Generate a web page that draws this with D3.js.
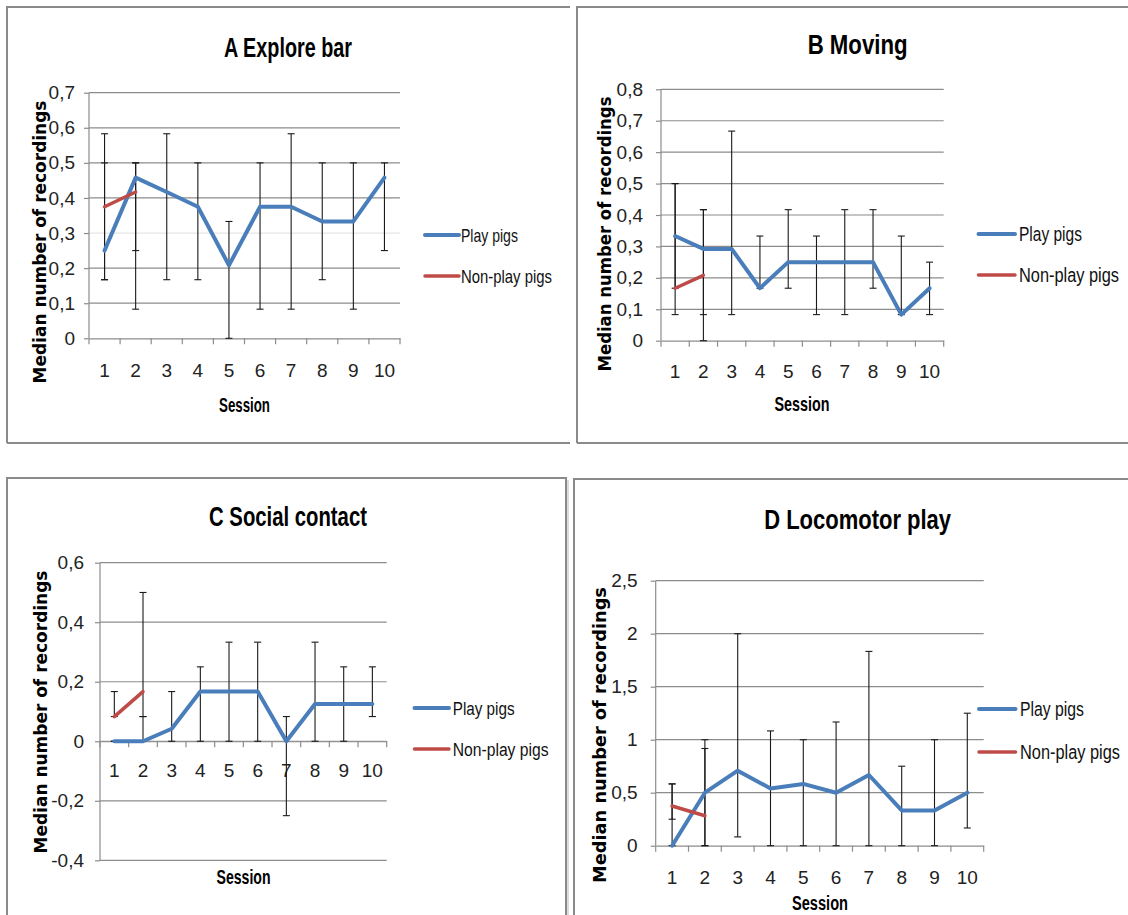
<!DOCTYPE html>
<html><head><meta charset="utf-8">
<script src="https://cdn.jsdelivr.net/npm/d3@7"></script>
<style>body{margin:0;background:#fff}svg{display:block}</style>
</head><body>
<svg id="c" width="1128" height="915"></svg>
<script>
// ---------- DATA ----------
const sessions = ["1","2","3","4","5","6","7","8","9","10"];
const seriesNames = ["Play pigs", "Non-play pigs"];
const titles = ["A Explore bar", "B Moving", "C Social contact", "D Locomotor play"];
const xAxisTitle = "Session";
const yAxisTitle = "Median number of recordings";

const yTicksA = [0, 0.1, 0.2, 0.3, 0.4, 0.5, 0.6, 0.7];
const yTicksB = [0, 0.1, 0.2, 0.3, 0.4, 0.5, 0.6, 0.7, 0.8];
const yTicksC = [-0.4, -0.2, 0, 0.2, 0.4, 0.6];
const yTicksD = [0, 0.5, 1, 1.5, 2, 2.5];

// A Explore bar
const playA      = [0.25, 0.458, 0.417, 0.375, 0.208, 0.375, 0.375, 0.333, 0.333, 0.458];
const playA_lo   = [0.167, 0.083, 0.167, 0.167, 0, 0.083, 0.083, 0.167, 0.083, 0.25];
const playA_hi   = [0.5, 0.5, 0.583, 0.5, 0.333, 0.5, 0.583, 0.5, 0.5, 0.5];
const nonPlayA    = [0.375, 0.417];
const nonPlayA_lo = [0.167, 0.25];
const nonPlayA_hi = [0.583, 0.5];

// B Moving
const playB      = [0.333, 0.292, 0.292, 0.167, 0.25, 0.25, 0.25, 0.25, 0.083, 0.167];
const playB_lo   = [0.083, 0.083, 0.083, 0.167, 0.167, 0.083, 0.083, 0.167, 0.083, 0.083];
const playB_hi   = [0.5, 0.417, 0.667, 0.333, 0.417, 0.333, 0.417, 0.417, 0.333, 0.25];
const nonPlayB    = [0.167, 0.208];
const nonPlayB_lo = [0.167, 0];
const nonPlayB_hi = [0.5, 0.417];

// C Social contact
const playC      = [0, 0, 0.042, 0.167, 0.167, 0.167, 0, 0.125, 0.125, 0.125];
const playC_lo   = [0, 0, 0, 0, 0, 0, -0.25, 0, 0, 0.083];
const playC_hi   = [0, 0.083, 0.167, 0.25, 0.333, 0.333, 0.083, 0.333, 0.25, 0.25];
const nonPlayC    = [0.083, 0.167];
const nonPlayC_lo = [0.083, 0.083];
const nonPlayC_hi = [0.167, 0.5];

// D Locomotor play
const playD      = [0, 0.5, 0.708, 0.54, 0.583, 0.5, 0.667, 0.333, 0.333, 0.5];
const playD_lo   = [0, 0, 0.083, 0, 0, 0, 0, 0, 0, 0.167];
const playD_hi   = [0.583, 1.0, 2.0, 1.083, 1.0, 1.167, 1.833, 0.75, 1.0, 1.25];
const nonPlayD    = [0.375, 0.283];
const nonPlayD_lo = [0.25, 0];
const nonPlayD_hi = [0.583, 0.917];

// ---------- STYLE ----------
const BLUE = "#4a7ebb", RED = "#be4b48", GRID = "#8c8c8c", FRAME = "#8a8a8a";
const NARROW = "'Liberation Sans Narrow','Arial Narrow','Liberation Sans',Arial,sans-serif";
const WIDE = "'DejaVu Sans',Verdana,sans-serif";
const loc = d3.formatLocale({decimal: ",", thousands: ".", grouping: [3], currency: ["", ""], minus: "-"});
const fmt = v => loc.format("~g")(Math.round(v * 100) / 100);

const svg = d3.select("#c");
svg.append("rect").attr("width", 1128).attr("height", 915).attr("fill", "#fff");

// place a text at (x,y), optionally rotated, squeezed horizontally to a target length
function fitText(parent, str, x, y, len, opts) {
  const t = parent.append("text").attr("x", 0).attr("y", 0)
    .attr("font-family", opts.family).attr("font-size", opts.size)
    .attr("font-weight", opts.weight || "normal").attr("fill", opts.fill || "#000")
    .attr("text-anchor", opts.anchor || "start").text(str);
  if (opts.dy) t.attr("dy", opts.dy);
  const w = t.node().getComputedTextLength();
  const s = len / w;
  t.attr("transform", `translate(${x},${y})${opts.rotate ? ` rotate(${opts.rotate})` : ""} scale(${s},1)`);
  return t;
}

const panels = [
  { title: titles[0], ticks: yTicksA, domain: [0, 0.7],
    play: playA, playLo: playA_lo, playHi: playA_hi, non: nonPlayA, nonLo: nonPlayA_lo, nonHi: nonPlayA_hi,
    frame: {x: 7, y: 7, x2: 570, y2: 443, right: false, bottom: true},
    plot: {x0: 89, x1: 400, yTop: 92.7, yBot: 338.3}, lightTick: 0.3,
    titlePos: {x: 288, y: 57, len: 128},
    yTitle: {x: 40, y: 242, len: 283},
    sess: {x: 244.5, y: 411.5, len: 51},
    leg: {x1: 425, x2: 459, tx: 461, y1: 235, y2: 276, fs: 18, len1: 57, len2: 91},
    yPad: 9, xPad: 25.5 },
  { title: titles[1], ticks: yTicksB, domain: [0, 0.8],
    play: playB, playLo: playB_lo, playHi: playB_hi, non: nonPlayB, nonLo: nonPlayB_lo, nonHi: nonPlayB_hi,
    frame: {x: 577, y: 7, x2: 1140, y2: 443, right: false, bottom: true},
    plot: {x0: 661, x1: 943.7, yTop: 89.3, yBot: 340.7},
    titlePos: {x: 857.6, y: 54, len: 100},
    yTitle: {x: 604.5, y: 234, len: 275},
    sess: {x: 802, y: 411, len: 55},
    leg: {x1: 978.5, x2: 1015, tx: 1019, y1: 234, y2: 275, fs: 19.5, len1: 63, len2: 100},
    yPad: 13, xPad: 23.5 },
  { title: titles[2], ticks: yTicksC, domain: [-0.4, 0.6],
    play: playC, playLo: playC_lo, playHi: playC_hi, non: nonPlayC, nonLo: nonPlayC_lo, nonHi: nonPlayC_hi,
    frame: {x: 7, y: 478, x2: 566, y2: 930, right: true, bottom: false},
    plot: {x0: 100, x1: 386.7, yTop: 562.7, yBot: 860.3},
    titlePos: {x: 288, y: 526, len: 158},
    yTitle: {x: 40.5, y: 712, len: 283},
    sess: {x: 243.5, y: 884, len: 54},
    leg: {x1: 414.5, x2: 449, tx: 452.7, y1: 708, y2: 749, fs: 19, len1: 62, len2: 96},
    yPad: 11, xPad: 22.5 },
  { title: titles[3], ticks: yTicksD, domain: [0, 2.5],
    play: playD, playLo: playD_lo, playHi: playD_hi, non: nonPlayD, nonLo: nonPlayD_lo, nonHi: nonPlayD_hi,
    frame: {x: 574, y: 479, x2: 1140, y2: 930, right: false, bottom: false},
    plot: {x0: 655.7, x1: 983.7, yTop: 580.7, yBot: 845.7},
    titlePos: {x: 857.6, y: 529, len: 187},
    yTitle: {x: 600, y: 735, len: 296},
    sess: {x: 820, y: 910, len: 56},
    leg: {x1: 979, x2: 1015.5, tx: 1020, y1: 709, y2: 752, fs: 19.5, len1: 64, len2: 100},
    yPad: 13, xPad: 25 }
];

panels.forEach(p => {
  const g = svg.append("g");
  const f = p.frame;
  // frame
  let d = `M${f.x},${f.y2}L${f.x},${f.y}L${f.x2},${f.y}`;
  if (f.right) d += `L${f.x2},${f.y2}`;
  g.append("path").attr("d", d).attr("fill", "none").attr("stroke", FRAME).attr("stroke-width", 2);
  if (f.bottom) g.append("line").attr("x1", f.x).attr("x2", f.x2).attr("y1", f.y2).attr("y2", f.y2)
      .attr("stroke", FRAME).attr("stroke-width", 2);
  if (f.right) g.append("line").attr("x1", f.x2 + 2).attr("x2", f.x2 + 2).attr("y1", f.y + 2).attr("y2", f.y2)
      .attr("stroke", "#dcdcdc").attr("stroke-width", 2);

  const x = d3.scaleBand().domain(sessions).range([p.plot.x0, p.plot.x1]);
  const y = d3.scaleLinear().domain(p.domain).range([p.plot.yBot, p.plot.yTop]);
  const cx = i => x(sessions[i]) + x.bandwidth() / 2;

  // gridlines
  g.append("g").selectAll("line").data(p.ticks.filter(t => t !== 0 || p.domain[0] !== 0)).join("line")
    .attr("x1", p.plot.x0).attr("x2", p.plot.x1)
    .attr("y1", d => y(d)).attr("y2", d => y(d))
    .attr("stroke", d => (p.lightTick !== undefined && Math.abs(d - p.lightTick) < 1e-9) ? "#e6e6e6" : GRID)
    .attr("stroke-width", 1.2);

  // y axis
  const ya = g.append("g").attr("transform", `translate(${p.plot.x0},0)`)
    .call(d3.axisLeft(y).tickValues(p.ticks).tickSize(5).tickPadding(p.yPad).tickFormat(fmt));
  ya.select(".domain").attr("stroke", GRID).attr("stroke-width", 1.2).attr("d", `M0,${p.plot.yBot}V${p.plot.yTop}`);
  ya.selectAll(".tick line").attr("stroke", GRID).attr("stroke-width", 1.2);
  ya.selectAll(".tick text").attr("font-family", NARROW).attr("font-size", 19).attr("fill", "#222");

  // x axis at y=0
  const y0 = y(0);
  const xa = g.append("g").attr("transform", `translate(0,${y0})`)
    .call(d3.axisBottom(x).tickSize(0).tickPadding(p.xPad));
  xa.select(".domain").attr("stroke", GRID).attr("stroke-width", 1.2);
  xa.selectAll(".tick text").attr("font-family", NARROW).attr("font-size", 19).attr("fill", "#222");
  const bounds = sessions.map(s => x(s)).concat([x(sessions[sessions.length - 1]) + x.bandwidth()]);
  xa.append("g").selectAll("line").data(bounds).join("line")
    .attr("x1", d => d).attr("x2", d => d).attr("y1", 0).attr("y2", 6)
    .attr("stroke", GRID).attr("stroke-width", 1.2);

  // error bars
  function errBars(lo, hi) {
    const eg = g.append("g").attr("stroke", "#1a1a1a").attr("stroke-width", 1.1).attr("fill", "none");
    lo.forEach((l, i) => {
      const h = hi[i], X = cx(i);
      eg.append("line").attr("x1", X).attr("x2", X).attr("y1", y(l)).attr("y2", y(h));
      eg.append("line").attr("x1", X - 3.5).attr("x2", X + 3.5).attr("y1", y(l)).attr("y2", y(l));
      eg.append("line").attr("x1", X - 3.5).attr("x2", X + 3.5).attr("y1", y(h)).attr("y2", y(h));
    });
  }
  errBars(p.playLo, p.playHi);
  errBars(p.nonLo, p.nonHi);

  const line = d3.line().x((d, i) => cx(i)).y(d => y(d));
  g.append("path").datum(p.play).attr("d", line).attr("fill", "none")
    .attr("stroke", BLUE).attr("stroke-width", 4).attr("stroke-linejoin", "round").attr("stroke-linecap", "round");
  g.append("path").datum(p.non).attr("d", line).attr("fill", "none")
    .attr("stroke", RED).attr("stroke-width", 3.5).attr("stroke-linejoin", "round").attr("stroke-linecap", "round");

  // title
  fitText(g, p.title, p.titlePos.x, p.titlePos.y, p.titlePos.len,
    {family: NARROW, size: 28, weight: "bold", anchor: "middle"});
  // y title
  fitText(g, yAxisTitle, p.yTitle.x, p.yTitle.y, p.yTitle.len,
    {family: WIDE, size: 17, weight: "bold", anchor: "middle", rotate: -90, dy: "0.36em"});
  // session
  fitText(g, xAxisTitle, p.sess.x, p.sess.y, p.sess.len,
    {family: NARROW, size: 20, weight: "bold", anchor: "middle"});

  // legend
  const L = p.leg;
  [[L.y1, BLUE, seriesNames[0], L.len1, 4], [L.y2, RED, seriesNames[1], L.len2, 3.5]].forEach(([yy, col, name, len, w]) => {
    g.append("line").attr("x1", L.x1).attr("x2", L.x2).attr("y1", yy).attr("y2", yy)
      .attr("stroke", col).attr("stroke-width", w).attr("stroke-linecap", "round");
    fitText(g, name, L.tx, yy + 6.5, len, {family: NARROW, size: L.fs, fill: "#111"});
  });
});
</script>
</body></html>
